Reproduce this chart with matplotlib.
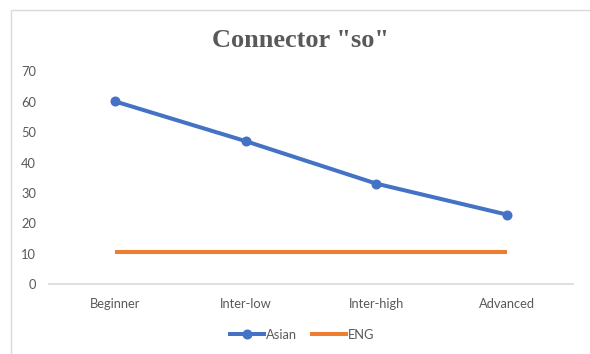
import matplotlib
matplotlib.use("Agg")
import matplotlib.pyplot as plt
from matplotlib.lines import Line2D
from matplotlib.patches import Rectangle

categories = ["Beginner", "Inter-low", "Inter-high", "Advanced"]
asian = [60.2, 47.1, 33.1, 22.9]
eng = [10.7, 10.7, 10.7, 10.7]
y_ticks = [0, 10, 20, 30, 40, 50, 60, 70]

BLUE = "#4472C4"
ORANGE = "#ED7D31"
GRAY_TXT = "#595959"
AXIS_GRAY = "#D9D9D9"

W, H = 590, 354
fig = plt.figure(figsize=(W / 100, H / 100), dpi=100)
fig.patch.set_facecolor("white")

# chart frame
fig.patches.append(Rectangle((10.5 / W, -0.05), 1.0, (H - 9.5) / H + 0.05,
                             transform=fig.transFigure, fill=False,
                             edgecolor="#D9D9D9", linewidth=1.0))

# plot area: x from 49.3 to 572.7 px, y from 0 at 284.3 px to 70 at 71.5 px
left, right = 49.3 / W, 572.7 / W
bottom = (H - 284.3) / H
top = (H - 71.5) / H
ax = fig.add_axes([left, bottom, right - left, top - bottom])

x = list(range(len(categories)))
ax.plot(x, eng, color=ORANGE, linewidth=2.9, solid_capstyle="butt", zorder=3)
ax.plot(x, asian, color=BLUE, linewidth=2.9, marker="o", markersize=6.2,
        solid_capstyle="butt", zorder=4)

ax.set_xlim(-0.5, len(categories) - 0.5)
ax.set_ylim(0, 70)
ax.set_yticks(y_ticks)
ax.set_xticks(x)
ax.set_xticklabels(categories)

for s in ["top", "right", "left"]:
    ax.spines[s].set_visible(False)
ax.spines["bottom"].set_color(AXIS_GRAY)
ax.spines["bottom"].set_linewidth(1.2)
ax.tick_params(axis="both", length=0, labelcolor=GRAY_TXT, labelsize=9.3)
ax.tick_params(axis="y", pad=9.5)
ax.tick_params(axis="x", pad=10)
for lab in ax.get_xticklabels() + ax.get_yticklabels():
    lab.set_fontfamily("Lato")

fig.text(300.5 / W, (H - 46.7) / H, 'Connector "so"', ha="center",
         va="baseline", fontsize=19, fontweight="bold",
         family="Liberation Serif", color=GRAY_TXT)

handles = [
    Line2D([], [], color=BLUE, linewidth=2.9, marker="o", markersize=6.2),
    Line2D([], [], color=ORANGE, linewidth=2.9),
]
fig.legend(handles, ["Asian", "ENG"], loc="center",
           bbox_to_anchor=(302 / W, (H - 335) / H), ncol=2, frameon=False,
           prop={"family": "Lato", "size": 9.3}, labelcolor=GRAY_TXT,
           handlelength=2.6, handletextpad=0.15, columnspacing=1.2)

fig.savefig("out.png", dpi=100, facecolor="white")
